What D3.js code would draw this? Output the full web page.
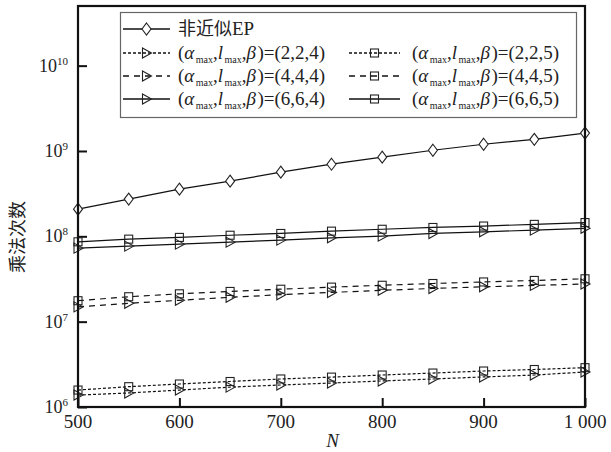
<!DOCTYPE html>
<meta charset="utf-8">
<head>
	<script src="https://d3js.org/d3.v7.min.js"></script>
</head>
<style>
	body { margin: 0; background: #fff; overflow: hidden; }
	svg { display: block; }
	svg text { font-family: "Liberation Serif", "Times New Roman", Times, serif; fill: #222; }
	svg text.cjk { font-family: "Noto Sans CJK SC", sans-serif; }
	.line { fill: none; stroke: #111; stroke-width: 1.2px; }
	.marker { stroke: #222; stroke-width: 1.1px; }
	.tick line { stroke: #111; stroke-width: 2px; }
	.domain { display: none; }
</style>
<body>
<div id="chart"></div>
<script>
	// ***** data *****
	var nValues = [500, 550, 600, 650, 700, 750, 800, 850, 900, 950, 1000];
	var epExact = [2.08e8, 2.73e8, 3.57e8, 4.43e8, 5.65e8, 7.0e8, 8.46e8, 1.02e9, 1.20e9, 1.37e9, 1.62e9];
	var p224 = [1.38e6, 1.46e6, 1.58e6, 1.71e6, 1.81e6, 1.91e6, 2.02e6, 2.13e6, 2.25e6, 2.37e6, 2.57e6];
	var p225 = [1.58e6, 1.73e6, 1.86e6, 1.99e6, 2.13e6, 2.24e6, 2.37e6, 2.50e6, 2.64e6, 2.75e6, 2.89e6];
	var p444 = [1.49e7, 1.64e7, 1.78e7, 1.93e7, 2.07e7, 2.20e7, 2.33e7, 2.45e7, 2.56e7, 2.66e7, 2.76e7];
	var p445 = [1.76e7, 1.96e7, 2.12e7, 2.26e7, 2.40e7, 2.54e7, 2.67e7, 2.80e7, 2.92e7, 3.04e7, 3.18e7];
	var p664 = [7.27e7, 7.68e7, 8.10e7, 8.55e7, 9.03e7, 9.60e7, 1.005e8, 1.08e8, 1.13e8, 1.18e8, 1.24e8];
	var p665 = [8.63e7, 9.27e7, 9.71e7, 1.03e8, 1.08e8, 1.15e8, 1.21e8, 1.27e8, 1.32e8, 1.38e8, 1.45e8];

	var xTicks = [500, 600, 700, 800, 900, 1000];
	var xTickLabels = ["500", "600", "700", "800", "900", "1 000"];
	var yTicks = [1e6, 1e7, 1e8, 1e9, 1e10];
	var yTickExp = ["6", "7", "8", "9", "10"];

	var series = [
		{ name: "非近似EP", values: epExact, marker: "diamond", dash: null },
		{ params: "(2,2,4)", values: p224, marker: "triangle", dash: "3,2" },
		{ params: "(2,2,5)", values: p225, marker: "square", dash: "3,2" },
		{ params: "(4,4,4)", values: p444, marker: "triangle", dash: "6,5" },
		{ params: "(4,4,5)", values: p445, marker: "square", dash: "6,5" },
		{ params: "(6,6,4)", values: p664, marker: "triangle", dash: null },
		{ params: "(6,6,5)", values: p665, marker: "square", dash: null }
	];

	var width = 611, height = 452;
	var margin = { top: 6, right: 26, bottom: 45, left: 78 };
	var innerWidth = width - margin.left - margin.right,
	    innerHeight = height - margin.top - margin.bottom;

	var svg = d3.select("#chart").append("svg")
		.attr("width", width)
		.attr("height", height);

	var g = svg.append("g")
		.attr("transform", "translate(" + margin.left + "," + margin.top + ")");

	var x = d3.scaleLinear().domain([500, 1000]).range([0, innerWidth]);
	var y = d3.scaleLog().domain([1e6, 5e10]).range([innerHeight, 0]);

	// axes (ticks point inward)
	g.append("g")
		.attr("class", "x axis")
		.attr("transform", "translate(0," + innerHeight + ")")
		.call(d3.axisBottom(x).tickValues(xTicks).tickSize(-9).tickFormat(""));

	g.append("g")
		.attr("class", "y axis")
		.call(d3.axisLeft(y).tickValues(yTicks).tickSize(-9).tickFormat(""));

	// x tick labels
	g.selectAll(".xlabel")
		.data(xTicks)
		.enter().append("text")
		.attr("x", function(d) { return x(d); })
		.attr("y", innerHeight + 21)
		.attr("text-anchor", "middle")
		.style("font-size", "19px")
		.text(function(d, i) { return xTickLabels[i]; });

	// y tick labels: "10" plus a separate superscript text
	yTicks.forEach(function(d, i) {
		var sup = g.append("text")
			.attr("x", -10)
			.attr("y", y(d) - 1)
			.attr("text-anchor", "end")
			.style("font-size", "11px")
			.text(yTickExp[i]);
		var w = sup.node().getComputedTextLength();
		g.append("text")
			.attr("x", -10 - w)
			.attr("y", y(d) + 6)
			.attr("text-anchor", "end")
			.style("font-size", "18px")
			.text("10");
	});

	// axis titles
	svg.append("text")
		.attr("x", margin.left + innerWidth / 2 + 1)
		.attr("y", 447)
		.attr("text-anchor", "middle")
		.style("font-size", "19px")
		.style("font-style", "italic")
		.text("N");

	svg.append("text")
		.attr("class", "cjk")
		.attr("transform", "translate(24,237) rotate(-90)")
		.attr("text-anchor", "middle")
		.style("font-size", "18px")
		.text("乘法次数");

	// marker drawing
	function drawMarker(sel, type) {
		if (type === "diamond") {
			sel.append("path").attr("d", "M0,-6L4.5,0L0,6L-4.5,0Z").attr("fill", "#fff");
		} else if (type === "square") {
			sel.append("rect").attr("x", -4).attr("y", -4).attr("width", 8).attr("height", 8).attr("fill", "none");
		} else {
			sel.append("path").attr("d", "M-4,-5L5,0L-4,5Z").attr("fill", "none");
		}
	}

	var line = d3.line()
		.x(function(d, i) { return x(nValues[i]); })
		.y(function(d) { return y(d); });

	series.forEach(function(s) {
		g.append("path")
			.attr("class", "line")
			.attr("d", line(s.values))
			.style("stroke-dasharray", s.dash);
		g.selectAll(null)
			.data(s.values)
			.enter().append("g")
			.attr("class", "marker")
			.attr("transform", function(d, i) { return "translate(" + x(nValues[i]) + "," + y(d) + ")"; })
			.each(function() { drawMarker(d3.select(this), s.marker); });
	});

	// frame
	g.append("rect")
		.attr("width", innerWidth)
		.attr("height", innerHeight)
		.attr("fill", "none")
		.attr("stroke", "#111")
		.attr("stroke-width", 2.2);

	// *******************************
	// ***** legend *****
	var legend = svg.append("g");
	legend.append("rect")
		.attr("x", 120.5).attr("y", 12.5)
		.attr("width", 456).attr("height", 105)
		.attr("fill", "#fff")
		.attr("stroke", "#666")
		.attr("stroke-width", 1.2);

	var rowY = [29, 53, 76, 99];
	var cols = [{ x0: 123, x1: 170, tx: 178 }, { x0: 349, x1: 400, tx: 412 }];
	var slots = [[0, 0], [1, 0], [1, 1], [2, 0], [2, 1], [3, 0], [3, 1]];

	// writes a run of text pieces one after another, each its own <text>;
	// italic glyphs get a little extra room so the next piece does not touch them
	function textRun(sel, x0, baseY, pieces) {
		var cx = x0;
		pieces.forEach(function(p) {
			var t = sel.append("text")
				.attr("x", cx)
				.attr("y", baseY + (p.sub ? 4 : 0))
				.style("font-size", (p.size || 19) + "px")
				.style("font-style", p.italic ? "italic" : null)
				.attr("class", p.cjk ? "cjk" : null)
				.text(p.t);
			cx += t.node().getComputedTextLength() + (p.italic ? 1.5 : 0);
		});
	}

	series.forEach(function(s, i) {
		var c = cols[slots[i][1]], ry = rowY[slots[i][0]];
		legend.append("line")
			.attr("class", "line")
			.attr("x1", c.x0).attr("x2", c.x1)
			.attr("y1", ry).attr("y2", ry)
			.style("stroke-width", "1.6px")
			.style("stroke-dasharray", s.dash);
		var m = legend.append("g")
			.attr("class", "marker")
			.attr("transform", "translate(" + ((c.x0 + c.x1) / 2) + "," + ry + ")");
		drawMarker(m, s.marker);

		if (s.name) {
			textRun(legend, c.tx, ry + 6, [
				{ t: "非近似", cjk: true, size: 18 },
				{ t: "EP" }
			]);
		} else {
			textRun(legend, c.tx, ry + 6, [
				{ t: "(" },
				{ t: "α", italic: true },
				{ t: "max", sub: true, size: 10 },
				{ t: "," },
				{ t: "l", italic: true },
				{ t: "max", sub: true, size: 10 },
				{ t: "," },
				{ t: "β", italic: true },
				{ t: ")=" + s.params }
			]);
		}
	});
</script>
</body>
